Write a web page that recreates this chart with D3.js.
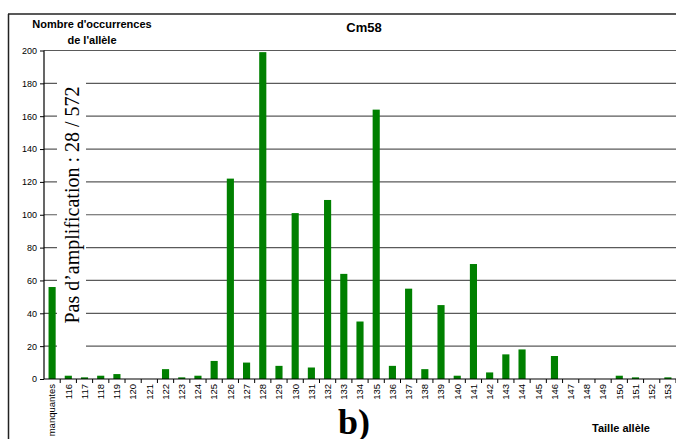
<!DOCTYPE html>
<html lang="fr">
<head>
  <meta charset="UTF-8">
  <title>Cm58</title>
  <script src="https://cdn.jsdelivr.net/npm/d3@7"></script>
  <style>
    body { margin: 0; background: #fff; }
    svg { display: block; font-family: Arial, "Liberation Sans", sans-serif; }
    .grid line { stroke: #5a5a5a; stroke-width: 1.2; }
    .tick-lbl { font-size: 9px; fill: #000; }
  </style>
</head>
<body>
  <div id="chart"></div>
  <script>
    // categories (allele sizes) and counts
    const categories = ["manquantes", "116", "117", "118", "119", "120", "121", "122", "123", "124",
      "125", "126", "127", "128", "129", "130", "131", "132", "133", "134", "135", "136", "137",
      "138", "139", "140", "141", "142", "143", "144", "145", "146", "147", "148", "149", "150",
      "151", "152", "153"];
    const counts = [56, 2, 1, 2, 3, 0, 0, 6, 1, 2,
      11, 122, 10, 199, 8, 101, 7, 109, 64, 35, 164, 8, 55,
      6, 45, 2, 70, 4, 15, 18, 0, 14, 0, 0, 0, 2,
      1, 0, 1];
    const yTicks = [0, 20, 40, 60, 80, 100, 120, 140, 160, 180, 200];

    const W = 676, H = 439;
    const plotLeft = 44, plotRight = 676, plotTop = 50.5, plotBottom = 379;

    const svg = d3.select("#chart").append("svg")
      .attr("width", W)
      .attr("height", H);

    const x = d3.scaleBand()
      .domain(categories)
      .range([plotLeft, plotRight])
      .paddingInner(0.56)
      .paddingOuter(0.28);

    const y = d3.scaleLinear()
      .domain([0, 200])
      .range([plotBottom, plotTop]);

    // frame (top + left border)
    svg.append("line")
      .attr("x1", 8).attr("x2", W).attr("y1", 14).attr("y2", 14)
      .attr("stroke", "#222").attr("stroke-width", 1.5);
    svg.append("line")
      .attr("x1", 8.5).attr("x2", 8.5).attr("y1", 14).attr("y2", H)
      .attr("stroke", "#222").attr("stroke-width", 1.5);

    // gridlines
    svg.append("g")
      .attr("class", "grid")
      .selectAll("line")
      .data(yTicks.filter(d => d > 0))
      .enter()
      .append("line")
      .attr("x1", plotLeft)
      .attr("x2", plotRight)
      .attr("y1", d => y(d))
      .attr("y2", d => y(d));

    // y axis
    const yAxis = svg.append("g")
      .attr("transform", `translate(${plotLeft},0)`)
      .call(d3.axisLeft(y).tickValues(yTicks).tickSize(4).tickPadding(3));
    yAxis.select(".domain").attr("stroke", "#000").attr("stroke-width", 1.2)
      .attr("d", `M0,${plotTop}V${plotBottom}`);
    yAxis.selectAll(".tick line").attr("stroke", "#000");
    yAxis.selectAll(".tick text")
      .attr("class", "tick-lbl")
      .style("font-family", "Arial, 'Liberation Sans', sans-serif")
      .style("font-size", "9px");

    // annotation box over gridlines
    svg.append("rect")
      .attr("x", 57).attr("y", 62)
      .attr("width", 29).attr("height", 290)
      .attr("fill", "#fff");
    svg.append("text")
      .attr("transform", `translate(72,205) rotate(-90)`)
      .attr("text-anchor", "middle")
      .attr("dy", "0.35em")
      .style("font-family", "'Liberation Serif', 'Times New Roman', serif")
      .style("font-size", "20px")
      .text("Pas d\u2019amplification : 28 / 572");

    // bars
    svg.append("g")
      .selectAll("rect")
      .data(categories.map((c, i) => ({ cat: c, v: counts[i] })))
      .enter()
      .append("rect")
      .attr("x", d => x(d.cat))
      .attr("y", d => y(d.v))
      .attr("width", x.bandwidth())
      .attr("height", d => plotBottom - y(d.v))
      .attr("fill", "#008000");

    // x axis line and ticks at band boundaries
    svg.append("line")
      .attr("x1", plotLeft).attr("x2", plotRight)
      .attr("y1", plotBottom).attr("y2", plotBottom)
      .attr("stroke", "#000").attr("stroke-width", 1.2);
    const step = x.step();
    svg.append("g")
      .selectAll("line")
      .data(categories)
      .enter()
      .append("line")
      .attr("x1", d => x(d) + x.bandwidth() / 2 + step / 2)
      .attr("x2", d => x(d) + x.bandwidth() / 2 + step / 2)
      .attr("y1", plotBottom)
      .attr("y2", plotBottom + 4)
      .attr("stroke", "#000");

    svg.append("g")
      .selectAll("text")
      .data(categories)
      .enter()
      .append("text")
      .attr("class", "tick-lbl")
      .attr("transform", d => `translate(${x(d) + x.bandwidth() / 2},${plotBottom + 5}) rotate(-90)`)
      .attr("text-anchor", "end")
      .attr("dy", "0.35em")
      .style("font-size", "9.5px")
      .text(d => d);

    // titles
    svg.append("text")
      .attr("x", 364).attr("y", 32)
      .attr("text-anchor", "middle")
      .style("font-weight", "bold")
      .style("font-size", "13px")
      .text("Cm58");

    svg.append("text")
      .attr("x", 92).attr("y", 28)
      .attr("text-anchor", "middle")
      .style("font-weight", "bold")
      .style("font-size", "11px")
      .text("Nombre d'occurrences");
    svg.append("text")
      .attr("x", 92).attr("y", 44)
      .attr("text-anchor", "middle")
      .style("font-weight", "bold")
      .style("font-size", "11px")
      .text("de l'all\u00e8le");

    svg.append("text")
      .attr("x", 621).attr("y", 432)
      .attr("text-anchor", "middle")
      .style("font-weight", "bold")
      .style("font-size", "11px")
      .text("Taille all\u00e8le");

    svg.append("text")
      .attr("x", 338).attr("y", 434)
      .style("font-family", "'Liberation Serif', 'Times New Roman', serif")
      .style("font-weight", "bold")
      .style("font-size", "36px")
      .text("b)");
  </script>
</body>
</html>
